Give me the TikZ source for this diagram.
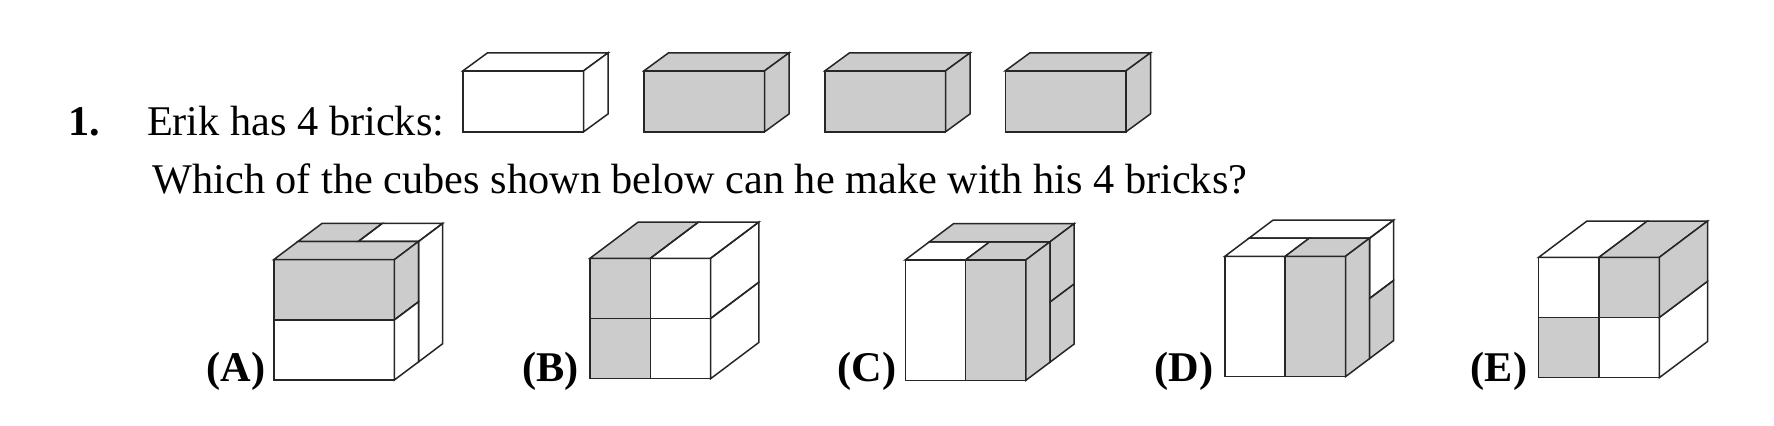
\documentclass[tikz,border=0pt]{standalone}
\usepackage{fontspec}
\setmainfont{Liberation Serif}
\definecolor{brickgray}{HTML}{CCCCCC}
\tikzset{
    itemtext/.style={anchor=base west,inner sep=0pt,font=\fontsize{21.15}{25}\selectfont},
    itemlabel/.style={anchor=base west,inner sep=0pt,font=\fontsize{21.15}{25}\selectfont\bfseries},
    edge/.style={draw=black!85,line width=0.75pt,line join=miter},
    dark/.style={edge,fill=brickgray},
    brickaxes/.style={x=60.3pt,y=30.5pt,z={(12.3pt,9pt)}},
    cubeaxes/.style={x=30.15pt,y=30.1pt,z={(12.05pt,9.05pt)}}
}

\begin{document}
\begin{tikzpicture}
    \useasboundingbox (0,0) rectangle (887pt,213pt);

    \node[itemlabel] (number) at (34pt,145.3pt) {1.};
    \node[itemtext] (erik) at (73.3pt,145.3pt) {Erik has 4 bricks:};
    \node[itemtext] (which) at (76pt,116.1pt) {Which of the cubes shown below can he make with his 4 bricks?};

    \foreach \xpos/\tone in {231.5/white,322/brickgray,412.5/brickgray,502.7/brickgray}{
        \begin{scope}[shift={(\xpos pt,147.1pt)},brickaxes]
            \draw[edge,fill=\tone] (0,0,0) rectangle (1,1,0);
            \draw[edge,fill=\tone] (0,1,0) -- (1,1,0) -- (1,1,1) -- (0,1,1) -- cycle;
            \draw[edge,fill=\tone] (1,0,0) -- (1,1,0) -- (1,1,1) -- (1,0,1) -- cycle;
        \end{scope}
    }

    \node[itemlabel] (labelA) at (103pt,22pt) {(A)};
    \begin{scope}[shift={(136.9pt,23pt)},cubeaxes]
        \draw[edge] (0,0,0) rectangle (2,1,0);
        \draw[dark] (0,1,0) rectangle (2,2,0);
        \draw[dark] (0,2,0) -- (2,2,0) -- (2,2,1) -- (0,2,1) -- cycle;
        \draw[dark] (0,2,1) -- (1,2,1) -- (1,2,2) -- (0,2,2) -- cycle;
        \draw[edge] (1,2,1) -- (2,2,1) -- (2,2,2) -- (1,2,2) -- cycle;
        \draw[dark] (2,1,0) -- (2,2,0) -- (2,2,1) -- (2,1,1) -- cycle;
        \draw[edge] (2,0,0) -- (2,1,0) -- (2,1,1) -- (2,0,1) -- cycle;
        \draw[edge] (2,0,1) -- (2,2,1) -- (2,2,2) -- (2,0,2) -- cycle;
    \end{scope}

    \node[itemlabel] (labelB) at (261pt,22pt) {(B)};
    \begin{scope}[shift={(295pt,23.65pt)},cubeaxes]
        \draw[dark] (0,0,0) rectangle (1,1,0);
        \draw[dark] (0,1,0) rectangle (1,2,0);
        \draw[edge] (1,0,0) rectangle (2,1,0);
        \draw[edge] (1,1,0) rectangle (2,2,0);
        \draw[dark] (0,2,0) -- (1,2,0) -- (1,2,2) -- (0,2,2) -- cycle;
        \draw[edge] (1,2,0) -- (2,2,0) -- (2,2,2) -- (1,2,2) -- cycle;
        \draw[edge] (2,0,0) -- (2,1,0) -- (2,1,2) -- (2,0,2) -- cycle;
        \draw[edge] (2,1,0) -- (2,2,0) -- (2,2,2) -- (2,1,2) -- cycle;
    \end{scope}

    \node[itemlabel] (labelC) at (418.7pt,22pt) {(C)};
    \begin{scope}[shift={(452.65pt,22.85pt)},cubeaxes]
        \draw[edge] (0,0,0) rectangle (1,2,0);
        \draw[dark] (1,0,0) rectangle (2,2,0);
        \draw[edge] (0,2,0) -- (1,2,0) -- (1,2,1) -- (0,2,1) -- cycle;
        \draw[dark] (1,2,0) -- (2,2,0) -- (2,2,1) -- (1,2,1) -- cycle;
        \draw[dark] (0,2,1) -- (2,2,1) -- (2,2,2) -- (0,2,2) -- cycle;
        \draw[dark] (2,0,0) -- (2,2,0) -- (2,2,1) -- (2,0,1) -- cycle;
        \draw[dark] (2,0,1) -- (2,1,1) -- (2,1,2) -- (2,0,2) -- cycle;
        \draw[dark] (2,1,1) -- (2,2,1) -- (2,2,2) -- (2,1,2) -- cycle;
    \end{scope}

    \node[itemlabel] (labelD) at (577.2pt,22pt) {(D)};
    \begin{scope}[shift={(612.45pt,24.65pt)},cubeaxes]
        \draw[edge] (0,0,0) rectangle (1,2,0);
        \draw[dark] (1,0,0) rectangle (2,2,0);
        \draw[edge] (0,2,0) -- (1,2,0) -- (1,2,1) -- (0,2,1) -- cycle;
        \draw[dark] (1,2,0) -- (2,2,0) -- (2,2,1) -- (1,2,1) -- cycle;
        \draw[edge] (0,2,1) -- (2,2,1) -- (2,2,2) -- (0,2,2) -- cycle;
        \draw[dark] (2,0,0) -- (2,2,0) -- (2,2,1) -- (2,0,1) -- cycle;
        \draw[dark] (2,0,1) -- (2,1,1) -- (2,1,2) -- (2,0,2) -- cycle;
        \draw[edge] (2,1,1) -- (2,2,1) -- (2,2,2) -- (2,1,2) -- cycle;
    \end{scope}

    \node[itemlabel] (labelE) at (735.2pt,22pt) {(E)};
    \begin{scope}[shift={(769.35pt,24.15pt)},cubeaxes]
        \draw[dark] (0,0,0) rectangle (1,1,0);
        \draw[edge] (0,1,0) rectangle (1,2,0);
        \draw[edge] (1,0,0) rectangle (2,1,0);
        \draw[dark] (1,1,0) rectangle (2,2,0);
        \draw[edge] (0,2,0) -- (1,2,0) -- (1,2,2) -- (0,2,2) -- cycle;
        \draw[dark] (1,2,0) -- (2,2,0) -- (2,2,2) -- (1,2,2) -- cycle;
        \draw[edge] (2,0,0) -- (2,1,0) -- (2,1,2) -- (2,0,2) -- cycle;
        \draw[dark] (2,1,0) -- (2,2,0) -- (2,2,2) -- (2,1,2) -- cycle;
    \end{scope}
\end{tikzpicture}
\end{document}
